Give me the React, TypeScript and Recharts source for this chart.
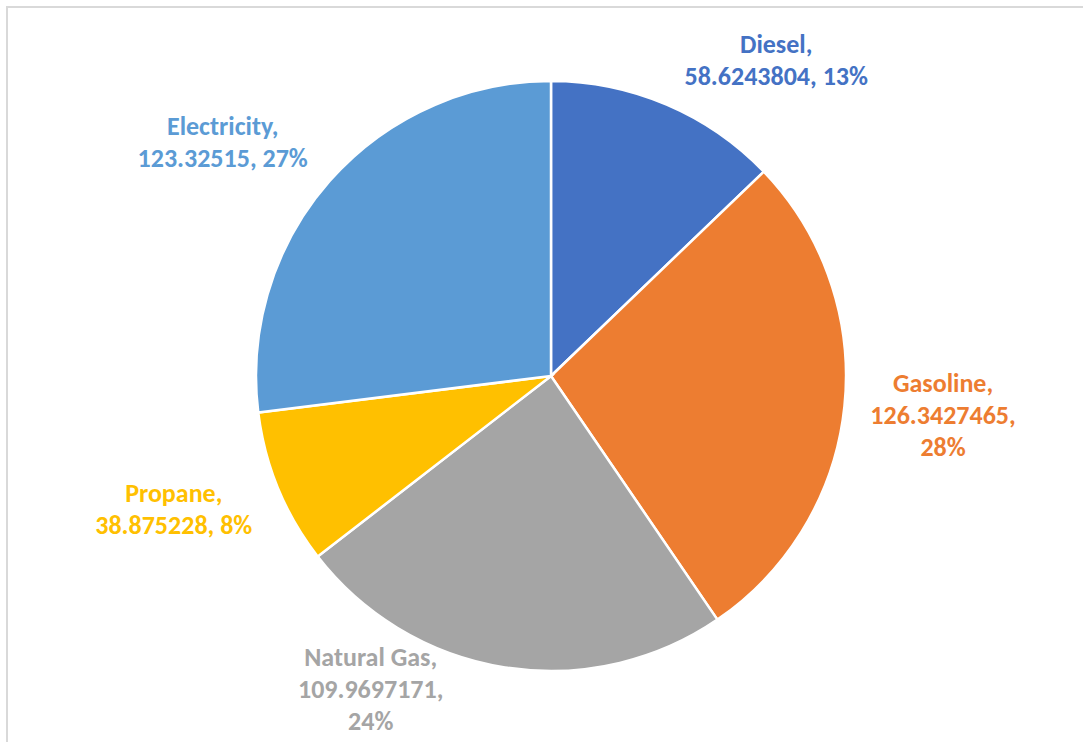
import React from 'react';
import { PieChart, Pie, Cell } from 'recharts';

const fuels = ['Diesel', 'Gasoline', 'Natural Gas', 'Propane', 'Electricity'];
const amounts = [58.6243804, 126.3427465, 109.9697171, 38.875228, 123.32515];
const colors = ['#4472C4', '#ED7D31', '#A5A5A5', '#FFC000', '#5B9BD5'];

// Excel style percentages: largest remainder so they add up to 100
function wholePercents(vals: number[]) {
  const total = vals.reduce((a, b) => a + b, 0);
  const raw = vals.map(v => (v / total) * 100);
  const out = raw.map(Math.floor);
  let left = 100 - out.reduce((a, b) => a + b, 0);
  const order = raw.map((r, i) => ({ i, rem: r - Math.floor(r) })).sort((a, b) => b.rem - a.rem);
  for (let k = 0; k < left; k++) out[order[k].i] += 1;
  return out;
}
const pcts = wholePercents(amounts);

const data = fuels.map((name, i) => ({ name, value: amounts[i], pct: pcts[i] }));

// best-fit label placement: angular shift from slice middle, distance from centre, line count
const labelFit = [
  { shift: 12.4, dist: 388, lines: 2 },
  { shift: -0.2, dist: 394, lines: 3 },
  { shift: 21, dist: 361, lines: 3 },
  { shift: 3, dist: 400, lines: 2 },
  { shift: -6, dist: 403, lines: 2 },
];

const LINE = 32;

const renderLabel = (props: any) => {
  const { cx, cy, midAngle, index } = props;
  const fit = labelFit[index];
  const d = data[index];
  const theta = ((90 - midAngle + fit.shift) * Math.PI) / 180;
  const x = cx + fit.dist * Math.sin(theta);
  const y = cy - fit.dist * Math.cos(theta);
  const lines =
    fit.lines === 3
      ? [`${d.name},`, `${d.value},`, `${d.pct}%`]
      : [`${d.name},`, `${d.value}, ${d.pct}%`];
  const top = y - ((lines.length - 1) * LINE) / 2;
  return (
    <text
      x={x}
      y={top}
      fill={colors[index]}
      textAnchor="middle"
      dominantBaseline="central"
      style={{ fontFamily: 'Calibri, Carlito, Lato, sans-serif', fontWeight: 700, fontSize: 26 }}
    >
      {lines.map((l, i) => (
        <tspan key={i} x={x} y={top + i * LINE}>
          {l}
        </tspan>
      ))}
    </text>
  );
};

export default function App() {
  return (
    <div style={{ position: 'absolute', left: 0, top: 0, width: 1083, height: 742, background: '#fff', overflow: 'hidden' }}>
      <div
        style={{
          position: 'absolute',
          left: 6,
          top: 6,
          width: 1200,
          height: 900,
          border: '2px solid #d9d9d9',
        }}
      />
      <div style={{ position: 'absolute', left: 0, top: 0 }}>
        <PieChart width={1083} height={742} margin={{ top: 0, right: 0, bottom: 0, left: 0 }}>
          <Pie
            data={data}
            dataKey="value"
            nameKey="name"
            cx={551}
            cy={376}
            outerRadius={295}
            startAngle={90}
            endAngle={-270}
            stroke="#ffffff"
            strokeWidth={2.5}
            label={renderLabel}
            labelLine={false}
            isAnimationActive={false}
          >
            {data.map((d, i) => (
              <Cell key={d.name} fill={colors[i]} />
            ))}
          </Pie>
        </PieChart>
      </div>
    </div>
  );
}
